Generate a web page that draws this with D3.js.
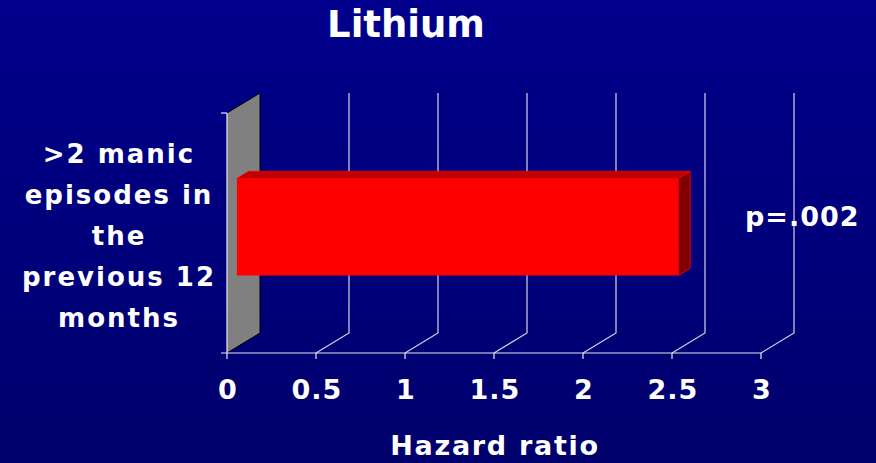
<!DOCTYPE html>
<html><head><meta charset="utf-8">
<script src="https://cdn.jsdelivr.net/npm/d3@7"></script>
<style>html,body{margin:0;padding:0;background:#00008a;}svg{display:block;}</style>
</head><body>
<script>
const categories = [">2 manic episodes in the previous 12 months"];
const categoryLines = [[">2 manic", "episodes in", "the", "previous 12", "months"]];
const hazardRatios = [2.48];
const xTicks = [0, 0.5, 1, 1.5, 2, 2.5, 3];
const tickLabels = ["0", "0.5", "1", "1.5", "2", "2.5", "3"];
const title = "Lithium";
const xTitle = "Hazard ratio";
const annotation = "p=.002";

const W = 876, H = 463;
const svg = d3.select("body").append("svg").attr("width", W).attr("height", H)
  .style("font-family", "'DejaVu Sans', Verdana, sans-serif").style("font-weight", "bold");

const defs = svg.append("defs");
const lg = defs.append("linearGradient").attr("id", "bg").attr("x1", 0).attr("y1", 0).attr("x2", 0).attr("y2", 1);
lg.append("stop").attr("offset", "0%").attr("stop-color", "#00008c");
lg.append("stop").attr("offset", "100%").attr("stop-color", "#00006c");
svg.append("rect").attr("width", W).attr("height", H).attr("fill", "url(#bg)");

// 3D geometry
const DX = 33, DY = -20;          // depth offset of back plane
const x = d3.scaleLinear().domain([0, 3]).range([227, 761]);
const y = d3.scaleBand().domain(categories).range([353, 113]).paddingInner(0).paddingOuter(0.737);
const yTop = 113, yBot = 353;
const f0 = 0.30, f1 = 0.66;       // bar depth fractions
const gridCol = "#d4d4e6";

// left wall (gray)
svg.append("path")
  .attr("d", `M${x(0)},${yTop} L${x(0)+DX},${yTop+DY} L${x(0)+DX},${yBot+DY} L${x(0)},${yBot} Z`)
  .attr("fill", "#808080").attr("stroke", "none");
svg.append("path")
  .attr("d", `M${x(0)},${yTop} L${x(0)+DX},${yTop+DY} L${x(0)+DX},${yBot+DY} L${x(0)},${yBot}`)
  .attr("fill", "none").attr("stroke", "#000").attr("stroke-width", 1);

// floor diagonals and back gridlines
const gl = svg.append("g").attr("stroke", gridCol).attr("stroke-width", 1.2).attr("fill", "none");
xTicks.forEach(t => {
  if (t === 0) return;
  gl.append("path").attr("d",
    `M${x(t)},${yBot} L${x(t)+DX},${yBot+DY} L${x(t)+DX},${yTop+DY}`);
});

// front axes
const ax = svg.append("g").attr("stroke", "#e8e8f4").attr("stroke-width", 1.2);
ax.append("line").attr("x1", x(0) - 6).attr("x2", x(3)).attr("y1", yBot).attr("y2", yBot);
ax.append("line").attr("x1", x(0)).attr("x2", x(0)).attr("y1", yTop).attr("y2", yBot);
ax.append("line").attr("x1", x(0) - 6).attr("x2", x(0)).attr("y1", yTop).attr("y2", yTop);
xTicks.forEach(t => {
  ax.append("line").attr("x1", x(t)).attr("x2", x(t)).attr("y1", yBot).attr("y2", yBot + 6);
});

// bar
categories.forEach((c, i) => {
  const v = hazardRatios[i];
  const ox0 = DX * f0, oy0 = DY * f0, ox1 = DX * f1, oy1 = DY * f1;
  const xl = x(0) + ox0, xr = x(v) + ox0;
  const yt = y(c) + oy0, yb = y(c) + y.bandwidth() + oy0;
  const ddx = ox1 - ox0, ddy = oy1 - oy0;
  const g = svg.append("g");
  // top face
  g.append("path").attr("d", `M${xl},${yt} L${xl+ddx},${yt+ddy} L${xr+ddx},${yt+ddy} L${xr},${yt} Z`)
    .attr("fill", "#c00000").attr("stroke", "#ff0000").attr("stroke-width", 0.8);
  // side face
  g.append("path").attr("d", `M${xr},${yt} L${xr+ddx},${yt+ddy} L${xr+ddx},${yb+ddy} L${xr},${yb} Z`)
    .attr("fill", "#800000").attr("stroke", "#ff0000").attr("stroke-width", 0.8);
  // front face
  g.append("rect").attr("x", xl).attr("y", yt).attr("width", xr - xl).attr("height", yb - yt)
    .attr("fill", "#ff0000");
});

// tick labels
svg.append("g").selectAll("text").data(xTicks).join("text")
  .attr("x", d => x(d) + 1).attr("y", 399).attr("text-anchor", "middle")
  .attr("fill", "#fff").attr("font-size", 27).style("letter-spacing", "1px")
  .text((d, i) => tickLabels[i]);

// category label
categoryLines[0].forEach((ln, i) => {
  svg.append("text").attr("x", 119).attr("y", 163 + i * 41).attr("text-anchor", "middle")
    .attr("fill", "#fff").attr("font-size", 26).style("letter-spacing", "2px").text(ln);
});

// title
svg.append("text").attr("x", 406).attr("y", 37).attr("text-anchor", "middle")
  .attr("fill", "#fff").attr("font-size", 37).text(title);

// x axis title
svg.append("text").attr("x", 495).attr("y", 455).attr("text-anchor", "middle")
  .attr("fill", "#fff").attr("font-size", 27).style("letter-spacing", "1.7px").text(xTitle);

// annotation
svg.append("text").attr("x", 745).attr("y", 226)
  .attr("fill", "#fff").attr("font-size", 27).style("letter-spacing", "1px").text(annotation);
</script>
</body></html>
